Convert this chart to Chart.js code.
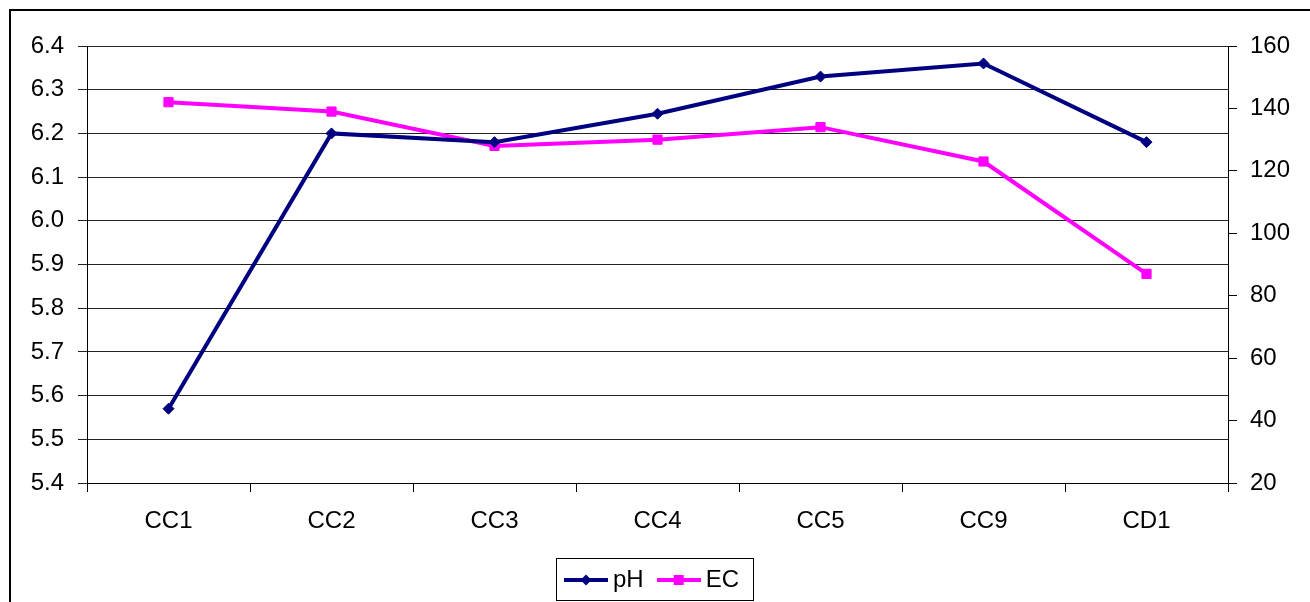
<!DOCTYPE html>
<html>
<head>
<meta charset="utf-8">
<script src="https://cdn.jsdelivr.net/npm/chart.js@4/dist/chart.umd.min.js"></script>
<style>
  body { margin: 0; background: #fff; }
  canvas { display: block; }
</style>
</head>
<body>
<canvas id="chart" width="1310" height="602"></canvas>
<script>
// data
const categories = ["CC1", "CC2", "CC3", "CC4", "CC5", "CC9", "CD1"];
const phValues = [5.57, 6.20, 6.18, 6.245, 6.33, 6.36, 6.18];
const ecValues = [142, 139, 128, 130, 134, 123, 87];
const phTicks = [5.4, 5.5, 5.6, 5.7, 5.8, 5.9, 6.0, 6.1, 6.2, 6.3, 6.4];
const ecTicks = [20, 40, 60, 80, 100, 120, 140, 160];

const NAVY = "#000080";
const PINK = "#FF00FF";
const FONT = { family: "Arial, 'Liberation Sans', sans-serif", size: 24 };

// legend sample: a short line with the marker in the middle
function legendSample(color, shape) {
  const c = document.createElement("canvas");
  c.width = 44;
  c.height = 14;
  const g = c.getContext("2d");
  g.fillStyle = color;
  g.fillRect(0, 5, 44, 4);
  g.beginPath();
  if (shape === "diamond") {
    g.moveTo(22, 1.5); g.lineTo(27.5, 7); g.lineTo(22, 12.5); g.lineTo(16.5, 7);
  } else {
    g.rect(17, 2, 10, 10);
  }
  g.closePath();
  g.fill();
  return c;
}
const samples = [legendSample(NAVY, "diamond"), legendSample(PINK, "square")];

// outer frame of the chart object and the box round the legend
const framePlugin = {
  id: "frame",
  afterDraw(chart) {
    const ctx = chart.ctx;
    ctx.save();
    ctx.fillStyle = "#000";
    ctx.fillRect(9, 9, chart.width, 2);
    ctx.fillRect(9, 9, 2, chart.height);
    const hb = chart.legend.legendHitBoxes;
    if (hb && hb.length) {
      const last = hb[hb.length - 1];
      const left = hb[0].left - 15;
      const right = last.left + last.width + 14;
      const mid = hb[0].top + hb[0].height / 2;
      ctx.strokeStyle = "#000";
      ctx.lineWidth = 1;
      ctx.strokeRect(Math.round(left) + 0.5, Math.round(mid - 22) + 0.5,
        Math.round(right - left), 42);
    }
    ctx.restore();
  }
};

const ctx = document.getElementById("chart").getContext("2d");
const chart = new Chart(ctx, {
  type: "line",
  data: {
    labels: categories,
    datasets: [
      {
        label: "pH",
        data: phValues,
        yAxisID: "y",
        borderColor: NAVY,
        backgroundColor: NAVY,
        borderWidth: 4,
        pointStyle: "rectRot",
        pointRadius: 5.5,
        pointBorderWidth: 1,
        pointBackgroundColor: NAVY,
        pointBorderColor: NAVY,
        tension: 0
      },
      {
        label: "EC",
        data: ecValues,
        yAxisID: "y1",
        borderColor: PINK,
        backgroundColor: PINK,
        borderWidth: 4,
        pointStyle: "rect",
        pointRadius: 6.5,
        pointBorderWidth: 1,
        pointBackgroundColor: PINK,
        pointBorderColor: PINK,
        tension: 0
      }
    ]
  },
  options: {
    responsive: false,
    animation: false,
    layout: { padding: { top: 46, left: 0, right: 0, bottom: 0 } },
    plugins: {
      tooltip: { enabled: false },
      legend: {
        position: "bottom",
        labels: {
          color: "#000",
          font: FONT,
          usePointStyle: true,
          pointStyleWidth: 30,
          padding: 20,
          generateLabels(chart) {
            const items = Chart.defaults.plugins.legend.labels.generateLabels(chart);
            items.forEach((it, i) => { it.pointStyle = samples[i]; });
            return items;
          }
        }
      }
    },
    scales: {
      x: {
        offset: true,
        afterFit(scale) { scale.height = 65; },
        grid: {
          offset: true,
          drawOnChartArea: false,
          color: "#000",
          tickLength: 9
        },
        border: { color: "#000", width: 1 },
        ticks: { color: "#000", font: FONT, padding: 15, maxRotation: 0 }
      },
      y: {
        position: "left",
        min: 5.4,
        max: 6.4,
        afterFit(scale) { scale.width = 87; },
        afterBuildTicks(scale) { scale.ticks = phTicks.map(v => ({ value: v })); },
        grid: { color: "#222", lineWidth: 1, tickLength: 9 },
        border: { color: "#000", width: 1 },
        ticks: {
          color: "#000",
          font: FONT,
          padding: 14,
          callback: v => Number(v).toFixed(1)
        }
      },
      y1: {
        position: "right",
        min: 20,
        max: 160,
        afterFit(scale) { scale.width = 82; },
        afterBuildTicks(scale) { scale.ticks = ecTicks.map(v => ({ value: v })); },
        grid: { drawOnChartArea: false, color: "#000", tickLength: 9 },
        border: { color: "#000", width: 1 },
        ticks: { color: "#000", font: FONT, padding: 13 }
      }
    }
  },
  plugins: [framePlugin]
});
</script>
</body>
</html>
